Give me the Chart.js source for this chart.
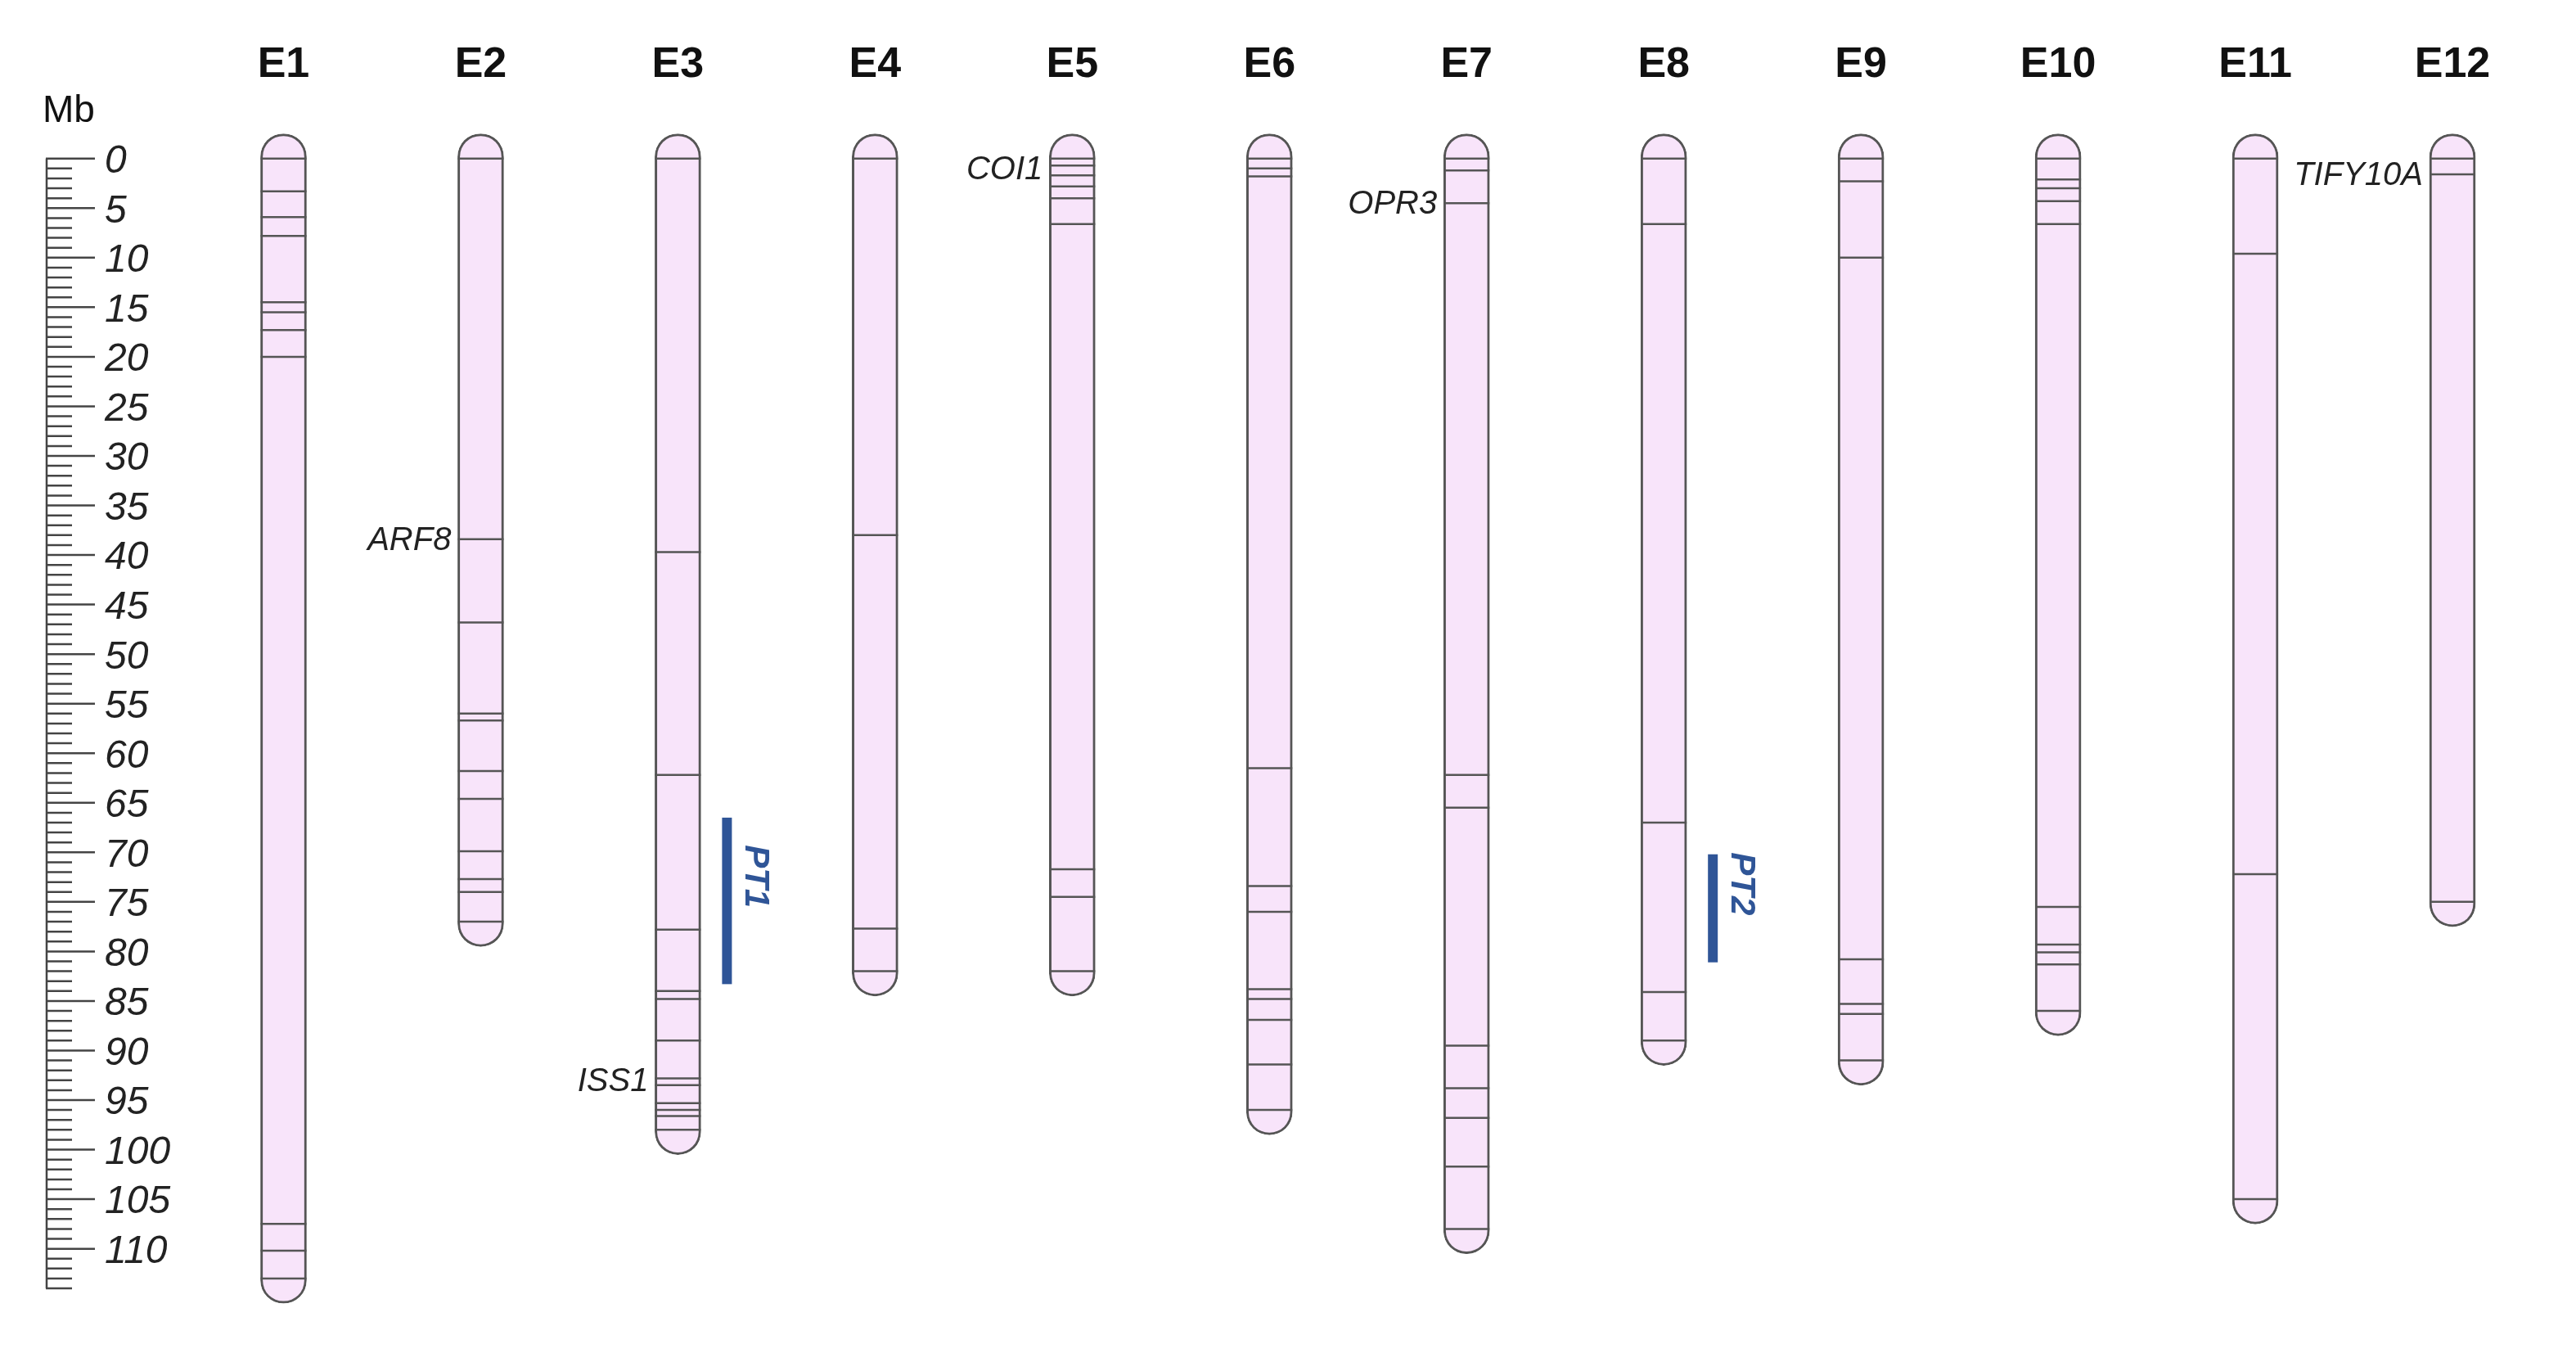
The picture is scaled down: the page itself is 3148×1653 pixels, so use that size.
<!DOCTYPE html>
<html>
<head>
<meta charset="utf-8">
<script src="https://cdn.jsdelivr.net/npm/chart.js@4/dist/chart.umd.min.js"></script>
<style>
  html, body { margin: 0; padding: 0; background: #fff; }
  #wrap { width: 3148px; height: 1653px; }
</style>
</head>
<body>
<div id="wrap"><canvas id="chromChart"></canvas></div>
<script>
// chromosome names and lengths (Mb)
const chromosomes = ["E1", "E2", "E3", "E4", "E5", "E6", "E7", "E8", "E9", "E10", "E11", "E12"];
const lengths = [113, 77, 98, 82, 82, 96, 108, 89, 91, 86, 105, 75];

// band positions (Mb) per chromosome
const bands = [
  [3.3, 5.9, 7.8, 14.5, 15.5, 17.3, 20, 107.5, 110.2],
  [38.4, 46.8, 56, 56.7, 61.8, 64.6, 69.9, 72.7, 74],
  [39.7, 62.2, 77.8, 84, 84.8, 89, 92.8, 93.5, 95.3, 96, 96.6],
  [38, 77.7],
  [0.7, 1.7, 2.8, 4, 6.6, 71.7, 74.5],
  [1, 1.8, 61.5, 73.4, 76, 83.8, 84.8, 86.9, 91.4],
  [1.2, 4.5, 62.2, 65.5, 89.5, 93.8, 96.8, 101.7],
  [6.6, 67, 84.1],
  [2.3, 10, 80.8, 85.3, 86.3],
  [2.1, 3, 4.3, 6.6, 75.5, 79.3, 80.1, 81.3],
  [9.6, 72.2],
  [1.6]
];

// gene labels
const geneNames = ["ARF8", "COI1", "OPR3", "ISS1", "TIFY10A"];
const geneChrom = ["E2", "E5", "E7", "E3", "E12"];
const genePos = [38.4, 1, 4.5, 93, 1.6];

// QTL intervals
const qtlNames = ["PT1", "PT2"];
const qtlChrom = ["E3", "E8"];
const qtlStart = [66.5, 70.2];
const qtlEnd = [83.3, 81.1];

const capMb = 2.5;
const fontFam = "'Liberation Sans', Arial, sans-serif";

const bandPoints = [];
bands.forEach(function (list, i) {
  bandPoints.push({ x: chromosomes[i], y: 0 });
  list.forEach(function (b) { bandPoints.push({ x: chromosomes[i], y: b }); });
  bandPoints.push({ x: chromosomes[i], y: lengths[i] });
});

const overlay = {
  id: "overlay",
  afterDatasetsDraw(chart) {
    const ctx = chart.ctx;
    const xs = chart.scales.x, ys = chart.scales.y;
    ctx.save();
    // chromosome names
    ctx.fillStyle = "#111";
    ctx.font = "bold 52px " + fontFam;
    ctx.textAlign = "center";
    ctx.textBaseline = "middle";
    chromosomes.forEach(function (c) { ctx.fillText(c, xs.getPixelForValue(c), 80); });

    // ruler
    ctx.font = "46px " + fontFam;
    ctx.textAlign = "left";
    ctx.fillText("Mb", 52, 136);
    ctx.strokeStyle = "#444";
    ctx.lineWidth = 2.5;
    ctx.beginPath();
    ctx.moveTo(57, ys.getPixelForValue(0));
    ctx.lineTo(57, ys.getPixelForValue(114));
    for (let v = 0; v <= 114; v++) {
      const y = ys.getPixelForValue(v);
      ctx.moveTo(56, y);
      ctx.lineTo(v % 5 === 0 ? 116 : 88, y);
    }
    ctx.stroke();
    ctx.fillStyle = "#222";
    ctx.font = "italic 48px " + fontFam;
    for (let v = 0; v <= 110; v += 5) {
      ctx.fillText(String(v), 128, ys.getPixelForValue(v) + 4);
    }

    // gene labels
    ctx.textAlign = "right";
    ctx.font = "italic 40px " + fontFam;
    geneNames.forEach(function (g, i) {
      ctx.fillText(g, xs.getPixelForValue(geneChrom[i]) - 36, ys.getPixelForValue(genePos[i]) + 2);
    });

    // QTL bars
    qtlNames.forEach(function (q, i) {
      const x = xs.getPixelForValue(qtlChrom[i]) + 60;
      const y1 = ys.getPixelForValue(qtlStart[i]);
      const y2 = ys.getPixelForValue(qtlEnd[i]);
      ctx.fillStyle = "#2f5597";
      ctx.fillRect(x - 6, y1, 12, y2 - y1);
      ctx.save();
      ctx.translate(x + 34, (y1 + y2) / 2 - 30);
      ctx.rotate(Math.PI / 2);
      ctx.textAlign = "center";
      ctx.font = "italic bold 42px " + fontFam;
      ctx.fillText(q, 0, 0);
      ctx.restore();
    });
    ctx.restore();
  }
};

new Chart(document.getElementById("chromChart").getContext("2d"), {
  type: "bar",
  data: {
    labels: chromosomes,
    datasets: [
      {
        type: "line",
        label: "bands",
        data: bandPoints,
        showLine: false,
        pointStyle: "line",
        pointRadius: 28,
        pointHoverRadius: 28,
        pointBorderWidth: 2.5,
        pointBorderColor: "#555",
        order: 0
      },
      {
        label: "chromosomes",
        data: lengths.map(function (l) { return [-capMb, l + capMb]; }),
        backgroundColor: "#f8e4fa",
        borderColor: "#555",
        borderWidth: 3,
        borderSkipped: false,
        borderRadius: 28,
        barThickness: 56,
        order: 1
      }
    ]
  },
  options: {
    responsive: true,
    maintainAspectRatio: false,
    animation: false,
    layout: { padding: { left: 226, right: 0, top: 155, bottom: 28 } },
    plugins: { legend: { display: false }, tooltip: { enabled: false } },
    scales: {
      x: { display: false, offset: true },
      y: { display: false, reverse: true, min: -3.2, max: 118 }
    }
  },
  plugins: [overlay]
});
</script>
</body>
</html>
